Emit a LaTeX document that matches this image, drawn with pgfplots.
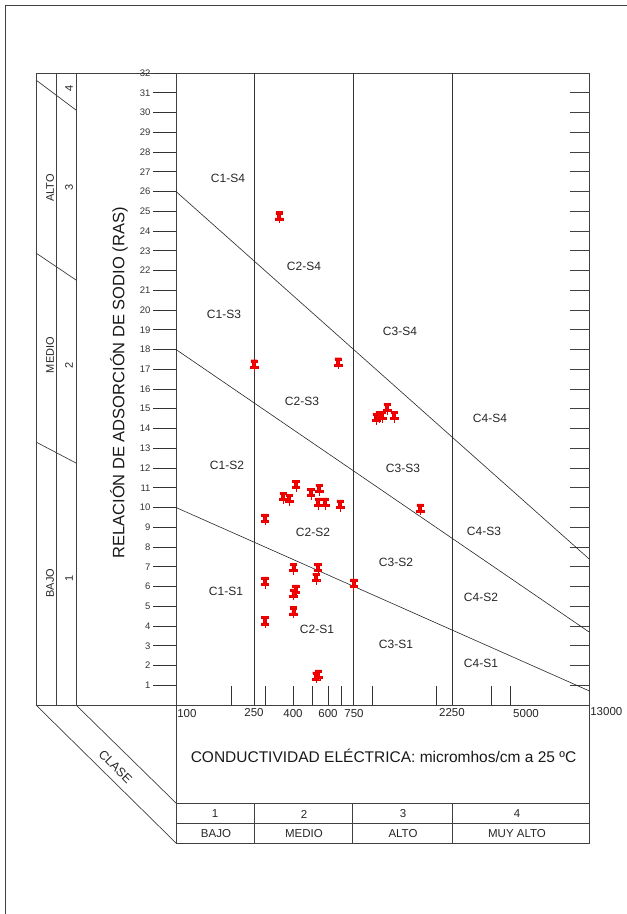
\documentclass[border=0pt]{standalone}
\usepackage{pgfplots}
\pgfplotsset{compat=1.18}
\usepackage{fontspec}
\setmainfont{Liberation Sans}

\pgfdeclareplotmark{pin}{%
  \pgfpathrectanglecorners{\pgfpoint{-3.2pt}{3.4pt}}{\pgfpoint{3.2pt}{5.6pt}}%
  \pgfpathrectanglecorners{\pgfpoint{-1.4pt}{-1pt}}{\pgfpoint{1.4pt}{3.6pt}}%
  \pgfpathrectanglecorners{\pgfpoint{-3.8pt}{-2.7pt}}{\pgfpoint{3.8pt}{-0.8pt}}%
  \pgfusepathqfillstroke
  \pgfpathmoveto{\pgfpoint{0pt}{-2.7pt}}\pgfpathlineto{\pgfpoint{0pt}{-6pt}}\pgfusepathqstroke
}

\pgfplotstableread{
x y
330 24.7
250 17.2
635 17.3
968 14.5
1001 14.6
1035 14.6
1094 15.0
1182 14.6
1578 9.9
398 11.1
345 10.5
369 10.4
470 10.7
514 10.9
509 10.2
550 10.2
649 10.1
282 9.4
387 6.9
507 6.9
497 6.4
282 6.2
755 6.1
398 5.8
387 5.6
387 4.7
282 4.2
497 1.4
510 1.5
}\datatable

\begin{document}
\begin{tikzpicture}
\useasboundingbox (0,0) rectangle (627pt,-914pt);
\begin{scope}[x=1pt,y=-1pt,line width=0.7pt,draw=black!75]
  % outer frame
  \draw (5,914) -- (5,5) -- (627,5);
  % left area
  \draw (36,73) -- (176,73);
  \draw (36,705) -- (176,705);
  \draw (36,73) -- (36,705);
  \draw (56,73) -- (56,705);
  \draw (76,73) -- (76,705);
  \draw (36,80) -- (76,110);
  \draw (36,253) -- (76,280);
  \draw (36,442) -- (76,463);
  % CLASE band
  \draw (36,705) -- (176,843);
  \draw (76,705) -- (176,803);
  \node[rotate=-45,inner sep=0pt,font=\fontsize{12.5}{14}\selectfont,text=black!85] at (115.5,767) {CLASE};
  % left labels
  \begin{scope}[font=\fontsize{11}{13}\selectfont,text=black!85]
  \node[rotate=90] at (50,188) {ALTO};
  \node[rotate=90] at (50,355) {MEDIO};
  \node[rotate=90] at (50,583) {BAJO};
  \node[rotate=90] at (69,88) {4};
  \node[rotate=90] at (69,187) {3};
  \node[rotate=90] at (69,365) {2};
  \node[rotate=90] at (69,578) {1};
  \end{scope}
  % y label
  \node[rotate=90,font=\fontsize{16.5}{18}\selectfont,text=black!90] at (119,383) {RELACIÓN DE ADSORCIÓN DE SODIO (RAS)};
  % right ticks
  \foreach \i in {1,...,31} \draw (570,{705-\i*19.75}) -- (589,{705-\i*19.75});
  % bottom boxes
  \draw (176,705) rectangle (589,843);
  \draw (176,803) -- (589,803);
  \draw (176,823) -- (589,823);
  \foreach \xx in {254,352,452} \draw (\xx,803) -- (\xx,843);
  \begin{scope}[font=\fontsize{11.5}{13}\selectfont,text=black!85]
  \node at (215,814) {1};
  \node at (304,814) {2};
  \node at (403,814) {3};
  \node at (517,814) {4};
  \node at (216,834) {BAJO};
  \node at (304,834) {MEDIO};
  \node at (403,834) {ALTO};
  \node at (517,834) {MUY ALTO};
  \node[anchor=west,inner sep=1pt] at (176,714) {100};
  \node at (254,713) {250};
  \node at (293,714) {400};
  \node at (328,714) {600};
  \node at (354,714) {750};
  \node at (452,713) {2250};
  \node at (526,714) {5000};
  \node[anchor=west,inner sep=1pt] at (589,712) {13000};
  \end{scope}
  \node[font=\fontsize{15.5}{17}\selectfont,text=black!90] at (383.5,756) {CONDUCTIVIDAD ELÉCTRICA: micromhos/cm a 25 ºC};
  % region labels
  \begin{scope}[font=\fontsize{12}{14}\selectfont,text=black!85]
  \node at (228,178) {C1-S4};
  \node at (304,266) {C2-S4};
  \node at (224,314) {C1-S3};
  \node at (400,331) {C3-S4};
  \node at (302,401) {C2-S3};
  \node at (490,418) {C4-S4};
  \node at (227,465) {C1-S2};
  \node at (403,468) {C3-S3};
  \node at (313,532) {C2-S2};
  \node at (484,531) {C4-S3};
  \node at (396,562) {C3-S2};
  \node at (226,591) {C1-S1};
  \node at (481,597) {C4-S2};
  \node at (317,629) {C2-S1};
  \node at (396,644) {C3-S1};
  \node at (481,663) {C4-S1};
  \end{scope}
\end{scope}
\begin{axis}[
  at={(176pt,-705pt)}, anchor=south west,
  scale only axis, width=413pt, height=632pt,
  x coord trafo/.code={\pgfmathparse{log10(#1)}\pgfmathsetmacro\LL{\pgfmathresult}%
    \pgfmathparse{\LL<=2.39794 ? (\LL-2)*196.01 : (\LL<=2.87506 ? 78+(\LL-2.39794)*207.495 : (\LL<=3.35218 ? 177+(\LL-2.87506)*207.495 : 276+(\LL-3.35218)*179.85))}},
  xmin=100, xmax=13000, ymin=0, ymax=32,
  axis line style={black!75,line width=0.7pt},
  xtick=\empty,
  ytick={1,...,32}, ytick pos=left, tick align=outside, major tick length=23pt,
  tick style={black!80,line width=0.7pt},
  yticklabel style={font=\fontsize{9.5}{10}\selectfont,text=black!80,xshift=1pt},
  /pgf/number format/assume math mode=true,
]
\addplot[black!80,line width=0.7pt] coordinates {(250,0) (250,32)};
\addplot[black!80,line width=0.7pt] coordinates {(750,0) (750,32)};
\addplot[black!80,line width=0.7pt] coordinates {(2250,0) (2250,32)};
\addplot[black!85,line width=0.6pt] coordinates {(100,10) (13000,0.72)};
\addplot[black!85,line width=0.6pt] coordinates {(100,18) (13000,3.7)};
\addplot[black!85,line width=0.6pt] coordinates {(100,26) (13000,7.4)};
\pgfplotsinvokeforeach{192,284,385,476,568,657,926,1884,3707,4727}{%
  \draw[black!80,line width=0.7pt] (axis cs:#1,0) -- ++(0pt,19pt);}
\addplot[only marks, mark=pin, mark options={fill=red,draw=red!90!black,line width=0.4pt}] table[x=x,y=y] {\datatable};
\end{axis}
\end{tikzpicture}
\end{document}
